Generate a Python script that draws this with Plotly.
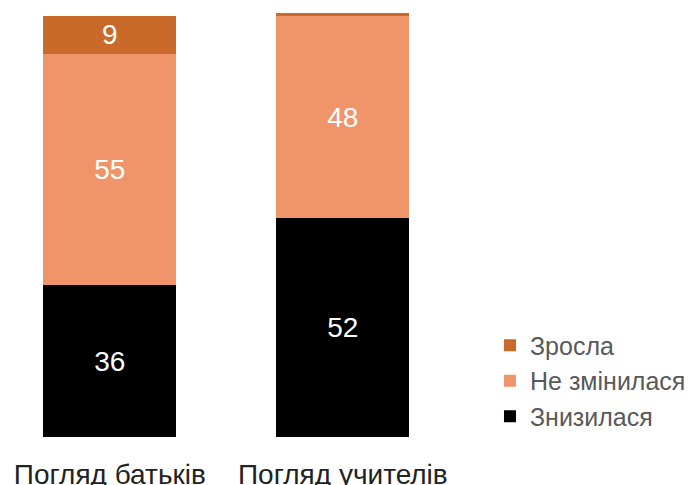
import plotly.graph_objects as go

# ── Data ──────────────────────────────────────────────────────────────────────
CATEGORIES = ['Погляд батьків', 'Погляд учителів']
SERIES     = ['Знизилася', 'Не змінилася', 'Зросла']
DECREASED  = [36, 52]
UNCHANGED  = [55, 48]
INCREASED  = [9, 0.7]
LABELS_INC = ['9', '']

COLORS = {
    'Знизилася':    '#000000',
    'Не змінилася': '#F0956A',
    'Зросла':       '#C9692A',
}

FONT = 'Liberation Sans, Arial, Helvetica, sans-serif'

values = {
    'Знизилася':    (DECREASED, [str(v) for v in DECREASED]),
    'Не змінилася': (UNCHANGED, [str(v) for v in UNCHANGED]),
    'Зросла':       (INCREASED, LABELS_INC),
}

fig = go.Figure()
for name in SERIES:
    y, txt = values[name]
    fig.add_trace(go.Bar(
        x=CATEGORIES, y=y, name=name, legendgroup=name,
        marker=dict(color=COLORS[name], line=dict(width=0)),
        text=txt, textposition='inside', insidetextanchor='middle',
        textangle=0,
        textfont=dict(color='white', size=28, family=FONT),
        hoverinfo='skip',
    ))

# page body has an 8px margin, so the plot area is laid out relative to that
fig.update_layout(
    width=693, height=485,
    barmode='stack', bargap=0.428,
    plot_bgcolor='white', paper_bgcolor='white',
    margin=dict(l=0, r=223, t=0, b=56),
    uniformtext=dict(mode=False),
    legend=dict(
        xref='container', yref='container',
        x=0.6955, y=0.231, xanchor='left', yanchor='middle',
        traceorder='reversed', tracegroupgap=10,
        font=dict(size=25, color='#595959', family=FONT),
        itemclick=False,
    ),
)
fig.update_xaxes(
    type='category', range=[-0.437, 1.58],
    showgrid=False, showline=False, zeroline=False,
    ticks='outside', ticklen=12, tickcolor='rgba(0,0,0,0)',
    tickfont=dict(size=28, color='#222222', family=FONT),
)
fig.update_yaxes(
    range=[0, 101.9], visible=False, showgrid=False, zeroline=False,
)

fig.write_html('out.html')
